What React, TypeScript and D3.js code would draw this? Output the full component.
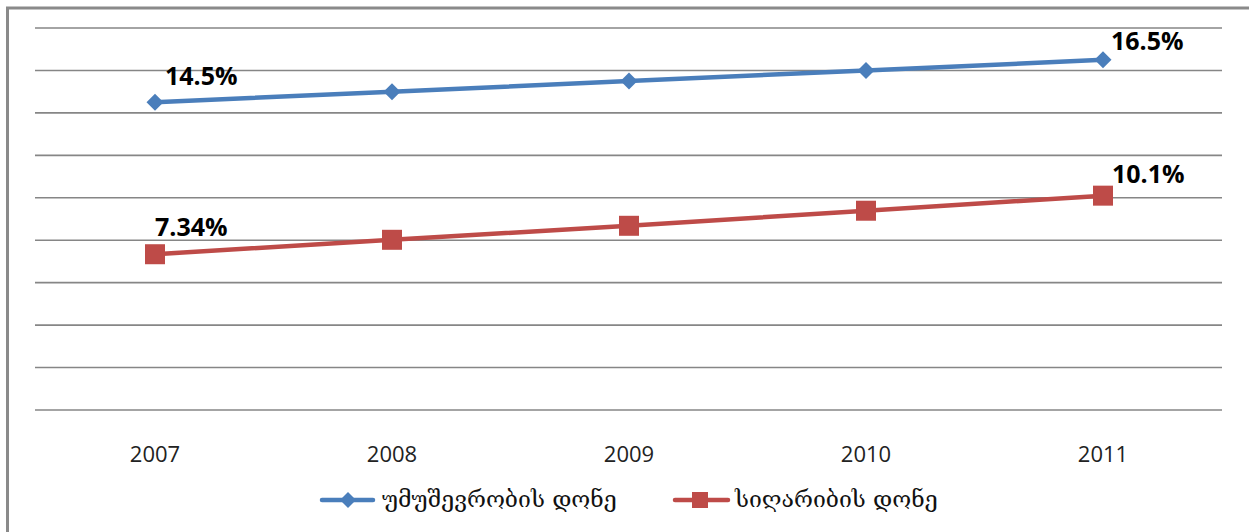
import React from "react";
import * as d3 from "d3";

const years = ["2007", "2008", "2009", "2010", "2011"];
const unemployment = [14.5, 15.0, 15.5, 16.0, 16.5];
const poverty = [7.34, 8.02, 8.68, 9.39, 10.1];
const unemploymentLabels = ["14.5%", "", "", "", "16.5%"];
const povertyLabels = ["7.34%", "", "", "", "10.1%"];
const seriesNames = ["უმუშევრობის დონე", "სიღარიბის დონე"];
const yTicks = [0, 2, 4, 6, 8, 10, 12, 14, 16, 18];

const W = 1249;
const H = 532;
const blue = "#4a7ebb";
const red = "#be4b48";

export default function App() {
  const x = d3.scalePoint<string>().domain(years).range([36.5, 1221.5]).padding(0.5);
  const y = d3.scaleLinear().domain([0, 18]).range([410, 28]);
  const line = d3
    .line<number>()
    .x((_, i) => x(years[i]) as number)
    .y((d) => y(d));
  const diamond = (cx: number, cy: number, r: number) =>
    `M${cx},${cy - r}L${cx + r},${cy}L${cx},${cy + r}L${cx - r},${cy}Z`;
  const labelFont = "'Open Sans', sans-serif";

  return (
    <div style={{ position: "absolute", left: 0, top: 0, width: W, height: H, overflow: "hidden", background: "#fff" }}>
      <svg width={W} height={H} style={{ display: "block" }}>
        <rect x={7.5} y={8} width={W + 20} height={H + 20} fill="#fff" stroke="#8a8a8a" strokeWidth={3} />
        {yTicks.map((t) => (
          <line key={t} x1={35} x2={1222} y1={y(t)} y2={y(t)} stroke="#868686" strokeWidth={1.6} />
        ))}
        {years.map((yr) => (
          <text key={yr} x={x(yr)} y={462} textAnchor="middle" fontFamily={labelFont} fontSize={22} fill="#222">
            {yr}
          </text>
        ))}
        <path d={line(unemployment) || ""} fill="none" stroke={blue} strokeWidth={4.5} />
        {unemployment.map((v, i) => (
          <path key={i} d={diamond(x(years[i]) as number, y(v), 8.5)} fill={blue} />
        ))}
        <path d={line(poverty) || ""} fill="none" stroke={red} strokeWidth={4.5} />
        {poverty.map((v, i) => (
          <rect key={i} x={(x(years[i]) as number) - 10} y={y(v) - 10} width={20} height={20} fill={red} />
        ))}
        {unemployment.map((v, i) =>
          unemploymentLabels[i] ? (
            <text key={i} x={(x(years[i]) as number) + (i === 0 ? 10 : 8)} y={y(v) - (i === 0 ? 17 : 10)} fontFamily={labelFont} fontWeight="bold" fontSize={25} fill="#000">
              {unemploymentLabels[i]}
            </text>
          ) : null
        )}
        {poverty.map((v, i) =>
          povertyLabels[i] ? (
            <text key={i} x={(x(years[i]) as number) + (i === 0 ? 0 : 9)} y={y(v) - (i === 0 ? 18 : 13)} fontFamily={labelFont} fontWeight="bold" fontSize={25} fill="#000">
              {povertyLabels[i]}
            </text>
          ) : null
        )}
        {/* legend */}
        <line x1={322} x2={373} y1={500} y2={500} stroke={blue} strokeWidth={4.5} strokeLinecap="round" />
        <path d={diamond(348, 500, 8)} fill={blue} />
        <text x={382} y={507} fontFamily="'DejaVu Serif', serif" fontSize={23} fill="#111">
          {seriesNames[0]}
        </text>
        <line x1={675} x2={728} y1={500} y2={500} stroke={red} strokeWidth={4.5} strokeLinecap="round" />
        <rect x={692} y={492} width={16} height={16} fill={red} />
        <text x={735} y={507} fontFamily="'DejaVu Serif', serif" fontSize={23} fill="#111">
          {seriesNames[1]}
        </text>
      </svg>
    </div>
  );
}
